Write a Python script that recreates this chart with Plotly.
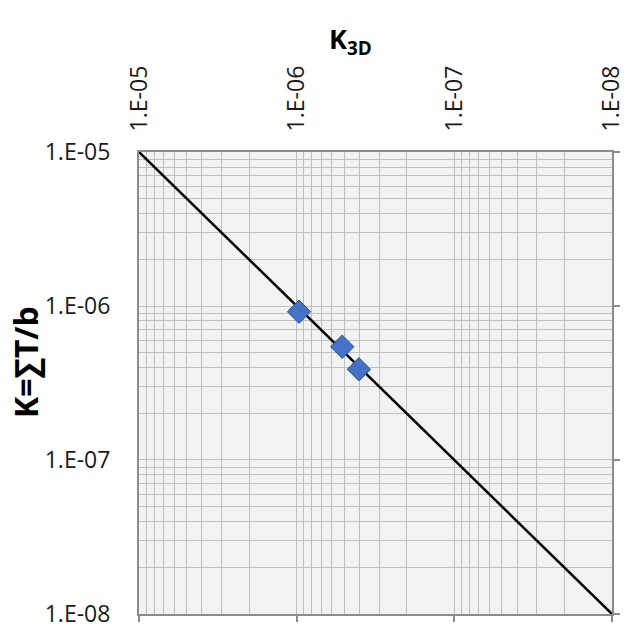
import plotly.graph_objects as go

# Data
k3d = [9.66e-7, 5.14e-7, 4.03e-7]          # x values (K_3D)
k_sum = [9.18e-7, 5.44e-7, 3.88e-7]        # y values (K = sum T / b)
line_x = [1e-5, 1e-8]
line_y = [1e-5, 1e-8]
major_vals = [1e-5, 1e-6, 1e-7, 1e-8]
major_text = ["1.E-05", "1.E-06", "1.E-07", "1.E-08"]
minor_vals = [m * 10.0 ** e for e in (-8, -7, -6) for m in (2, 3, 4, 5, 6, 7, 8, 9)]

FONT = "Open Sans"
W, H = 627, 625
x0, x1 = 139 / W, 612 / W
y0, y1 = 1 - 614 / H, 1 - 152 / H

fig = go.Figure()
fig.add_trace(go.Scatter(x=line_x, y=line_y, mode="lines",
                         line=dict(color="black", width=2.5), showlegend=False,
                         hoverinfo="skip"))
fig.add_trace(go.Scatter(x=k3d, y=k_sum, mode="markers",
                         marker=dict(symbol="diamond", size=18, color="#4472C4",
                                     line=dict(color="#2F528F", width=1)),
                         showlegend=False))
# invisible trace to draw outside tick marks on bottom/right
fig.add_trace(go.Scatter(x=[1e-6], y=[1e-6], xaxis="x2", yaxis="y2", mode="markers",
                         marker=dict(opacity=0), showlegend=False, hoverinfo="skip"))

grid = "#BFBFBF"
axis_common = dict(type="log", showgrid=True, gridcolor=grid, gridwidth=1,
                   zeroline=False, showline=True, linecolor="#8C8C8C", linewidth=2,
                   mirror=True, ticks="", automargin=False, ticklabeloverflow="allow",
                   tickfont=dict(family=FONT, size=23, color="#1a1a1a"),
                   minor=dict(tickvals=minor_vals, showgrid=True, gridcolor=grid,
                              gridwidth=1, ticks=""))

XR = [-4.9995, -8.0005]
YR = [-8.0005, -4.9995]

fig.update_layout(
    width=W, height=H, margin=dict(l=0, r=0, t=0, b=0),
    paper_bgcolor="white", plot_bgcolor="#F2F2F2",
    xaxis=dict(axis_common, domain=[x0, x1], range=XR, side="top",
               tickvals=major_vals, ticktext=major_text, tickangle=-90,
               ticklabelstandoff=14),
    yaxis=dict(axis_common, domain=[y0, y1], range=YR,
               tickvals=major_vals, ticktext=major_text, ticklabelstandoff=22),
    xaxis2=dict(type="log", overlaying="x", anchor="y", side="bottom", range=XR,
                tickvals=major_vals, showticklabels=False, ticks="outside",
                ticklen=7, tickcolor="#8C8C8C", tickwidth=1.5, showgrid=False,
                showline=False, zeroline=False, automargin=False),
    yaxis2=dict(type="log", overlaying="y", anchor="x", side="right", range=YR,
                tickvals=major_vals, showticklabels=False, ticks="outside",
                ticklen=7, tickcolor="#8C8C8C", tickwidth=1.5, showgrid=False,
                showline=False, zeroline=False, automargin=False),
    annotations=[
        dict(text="<b>K<sub>3D</sub></b>", xref="paper", yref="paper",
             x=350 / W, y=1 - 40 / H, xanchor="center", yanchor="middle",
             showarrow=False, font=dict(family=FONT, size=27, color="black")),
        dict(text="<b>K=∑T/b</b>", xref="paper", yref="paper",
             x=25 / W, y=1 - 362 / H, xanchor="center", yanchor="middle",
             showarrow=False, textangle=-90,
             font=dict(family=FONT, size=32, color="black")),
    ],
)

fig.write_html("out.html")
